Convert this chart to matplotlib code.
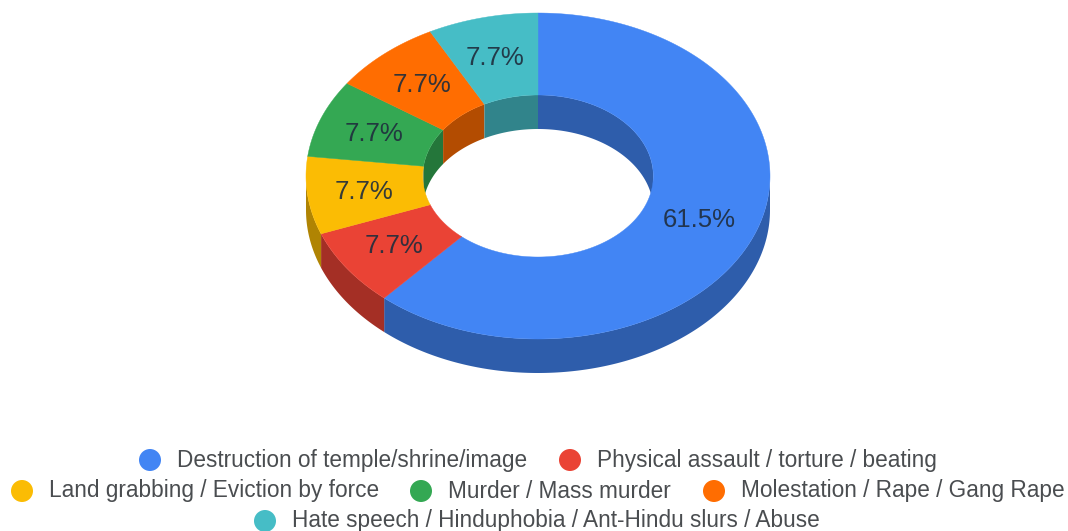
import numpy as np
import matplotlib
matplotlib.use("Agg")
import matplotlib.pyplot as plt
from matplotlib.patches import Polygon, Circle

labels = ["Destruction of temple/shrine/image", "Physical assault / torture / beating",
          "Land grabbing / Eviction by force", "Murder / Mass murder",
          "Molestation / Rape / Gang Rape", "Hate speech / Hinduphobia / Ant-Hindu slurs / Abuse"]
values = [8, 1, 1, 1, 1, 1]
colors = ["#4285F4", "#EA4335", "#FBBC04", "#34A853", "#FF6D01", "#46BDC6"]

# legend rows, pixel positions
legend_x = [150, 570, 22, 421, 714, 265]
legend_y = [460, 460, 491, 491, 491, 521]

cx, cy = 538, 176
rx, ry = 232, 163
hole = 0.497
depth = 34

plt.rcParams['font.family'] = ['Liberation Sans', 'DejaVu Sans']
fig = plt.figure(figsize=(10.68, 5.31), dpi=100)
ax = fig.add_axes([0, 0, 1, 1])
ax.set_xlim(0, 1068)
ax.set_ylim(531, 0)
ax.axis('off')


def pts(a, k, dy=0):
    return np.column_stack([cx + k * rx * np.sin(a), cy - k * ry * np.cos(a) + dy])


def darker(c):
    return tuple(x * 0.7 for x in matplotlib.colors.to_rgb(c))


fracs = np.array(values) / sum(values)
edges = np.concatenate([[0], np.cumsum(fracs)]) * 2 * np.pi

# outer wall, only the front half shows
for i in range(len(values)):
    a0, a1 = max(edges[i], np.pi / 2), min(edges[i + 1], 3 * np.pi / 2)
    if a1 > a0:
        a = np.linspace(a0, a1, 200)
        ax.add_patch(Polygon(np.vstack([pts(a, 1), pts(a[::-1], 1, depth)]), fc=darker(colors[i]), ec='none', zorder=1))

# inner wall, only the back half shows
for i in range(len(values)):
    for lo, hi in [(0, np.pi / 2), (3 * np.pi / 2, 2 * np.pi)]:
        a0, a1 = max(edges[i], lo), min(edges[i + 1], hi)
        if a1 > a0:
            a = np.linspace(a0, a1, 100)
            ax.add_patch(Polygon(np.vstack([pts(a, hole), pts(a[::-1], hole, depth)]), fc=darker(colors[i]), ec='none', zorder=1))

# top faces
for i in range(len(values)):
    a = np.linspace(edges[i], edges[i + 1], 300)
    ax.add_patch(Polygon(np.vstack([pts(a, 1), pts(a[::-1], hole)]), fc=colors[i], ec=colors[i], lw=0.3, zorder=2))
    mid = np.array([(edges[i] + edges[i + 1]) / 2])
    p = pts(mid, 0.75)[0]
    ax.text(p[0] - 1, p[1] + 1, f"{fracs[i] * 100:.1f}%", ha='center', va='center', fontsize=18.5, color='#1F2D3D', alpha=0.9, zorder=3)

# legend
for name, c, x, y in zip(labels, colors, legend_x, legend_y):
    ax.add_patch(Circle((x, y), 11, fc=c, ec='none'))
    ax.text(x + 27, y, name, ha='left', va='center', fontsize=16.3, color='#4A4D50')

fig.savefig("out.png", dpi=100)
